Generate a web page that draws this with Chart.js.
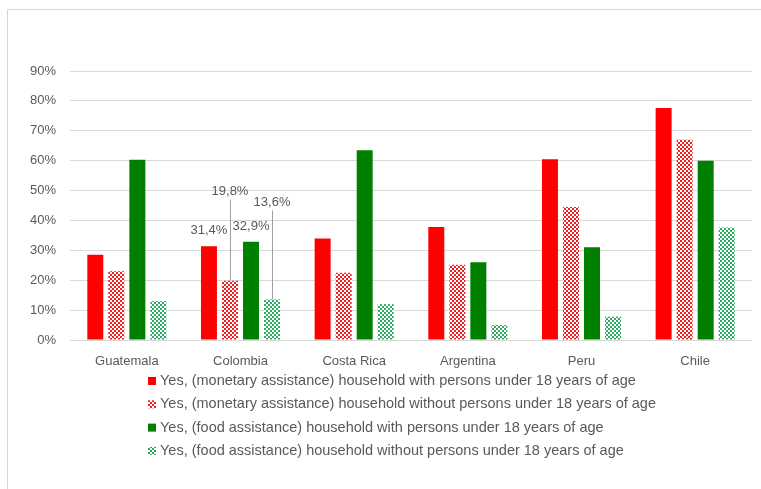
<!DOCTYPE html>
<html>
<head>
<meta charset="utf-8">
<script src="https://cdn.jsdelivr.net/npm/chart.js@4/dist/chart.umd.min.js"></script>
<style>
  html, body { margin: 0; padding: 0; background: #ffffff; overflow: hidden; }
  #wrap { position: relative; width: 761px; height: 489px; }
</style>
</head>
<body>
<div id="wrap"><canvas id="chart" width="761" height="489"></canvas></div>
<script>
// Share of households receiving assistance, by country (%)
const countries = ['Guatemala', 'Colombia', 'Costa Rica', 'Argentina', 'Peru', 'Chile'];
const seriesLabels = [
  'Yes, (monetary assistance) household with persons under 18 years of age',
  'Yes, (monetary assistance) household without persons under 18 years of age',
  'Yes, (food assistance) household with persons under 18 years of age',
  'Yes, (food assistance) household without persons under 18 years of age'
];
const monetaryWithMinors    = [28.5, 31.4, 34.0, 37.8, 60.5, 77.6];
const monetaryWithoutMinors = [23.0, 19.8, 22.5, 25.2, 44.5, 67.0];
const foodWithMinors        = [60.3, 32.9, 63.5, 26.0, 31.0, 60.0];
const foodWithoutMinors     = [13.0, 13.6, 12.0,  5.0,  7.8, 37.6];
const yTicks = [0, 10, 20, 30, 40, 50, 60, 70, 80, 90];

const TEXT = '#595959';
const FONT = 'Liberation Sans, Arial, sans-serif';

// Small checkerboard fill used for the "without minors" series
function checker(color) {
  const c = document.createElement('canvas');
  c.width = 4; c.height = 4;
  const g = c.getContext('2d');
  g.fillStyle = '#ffffff';
  g.fillRect(0, 0, 4, 4);
  g.fillStyle = color;
  g.fillRect(0, 0, 2, 2);
  g.fillRect(2, 2, 2, 2);
  return g.createPattern(c, 'repeat');
}

const ctx = document.getElementById('chart').getContext('2d');
const fills = ['#ff0000', checker('#f02020'), '#008000', checker('#2faa62')];
const values = [monetaryWithMinors, monetaryWithoutMinors, foodWithMinors, foodWithoutMinors];

// White background with a thin top and left frame line
const framePlugin = {
  id: 'frame',
  beforeDraw(chart) {
    const g = chart.ctx;
    g.save();
    g.fillStyle = '#ffffff';
    g.fillRect(0, 0, chart.width, chart.height);
    g.strokeStyle = '#d6d6d6';
    g.lineWidth = 1;
    g.beginPath();
    g.moveTo(7.5, chart.height);
    g.lineTo(7.5, 9.5);
    g.lineTo(chart.width, 9.5);
    g.stroke();
    g.restore();
  }
};

// Value labels for one category, some raised with leader lines
const valueLabelPlugin = {
  id: 'valueLabels',
  afterDatasetsDraw(chart, args, opts) {
    const g = chart.ctx;
    const idx = opts.index;
    g.save();
    g.font = '13px ' + FONT;
    g.fillStyle = TEXT;
    g.textAlign = 'center';
    g.textBaseline = 'middle';
    chart.data.datasets.forEach((ds, di) => {
      const bar = chart.getDatasetMeta(di).data[idx];
      const v = ds.data[idx];
      const txt = v.toFixed(1).replace('.', ',') + '%';
      const lift = opts.lift[di];
      const ly = bar.y - lift;
      if (lift > 20) {
        g.strokeStyle = '#a0a0a0';
        g.lineWidth = 1;
        g.beginPath();
        g.moveTo(Math.round(bar.x) + 0.5, ly + 8);
        g.lineTo(Math.round(bar.x) + 0.5, bar.y);
        g.stroke();
      }
      g.fillText(txt, bar.x, ly);
    });
    g.restore();
  }
};

// Stacked legend below the plot
const legendPlugin = {
  id: 'stackLegend',
  afterDraw(chart, args, opts) {
    const g = chart.ctx;
    g.save();
    g.font = '14.5px ' + FONT;
    g.textBaseline = 'middle';
    g.textAlign = 'left';
    chart.data.datasets.forEach((ds, i) => {
      const y = opts.top + i * opts.step;
      g.fillStyle = ds.backgroundColor;
      g.fillRect(opts.left, y - 4, 8, 8);
      g.fillStyle = TEXT;
      g.fillText(ds.label, opts.left + 12, y);
    });
    g.restore();
  }
};

new Chart(ctx, {
  type: 'bar',
  data: {
    labels: countries,
    datasets: seriesLabels.map((label, i) => ({
      label: label,
      data: values[i],
      backgroundColor: fills[i],
      borderWidth: 0,
      categoryPercentage: 0.74,
      barPercentage: 0.76
    }))
  },
  options: {
    responsive: false,
    animation: false,
    layout: { padding: { left: 12, right: 9, top: 71, bottom: 119 } },
    plugins: {
      legend: { display: false },
      tooltip: { enabled: false },
      valueLabels: { index: 1, lift: [16, 89, 15, 97] },
      stackLegend: { left: 148, top: 381, step: 23.3 }
    },
    scales: {
      x: {
        grid: { display: false },
        border: { display: false },
        ticks: { color: TEXT, font: { family: FONT, size: 13 }, padding: 6 },
        afterFit(scale) { scale.height = 30; }
      },
      y: {
        min: 0,
        max: 90,
        afterBuildTicks(scale) { scale.ticks = yTicks.map(v => ({ value: v })); },
        grid: { color: '#d9d9d9', drawTicks: false },
        border: { display: false },
        ticks: {
          color: TEXT,
          font: { family: FONT, size: 13 },
          padding: 14,
          callback: v => v + '%'
        },
        afterFit(scale) { scale.width = 58; }
      }
    }
  },
  plugins: [framePlugin, valueLabelPlugin, legendPlugin]
});
</script>
</body>
</html>
